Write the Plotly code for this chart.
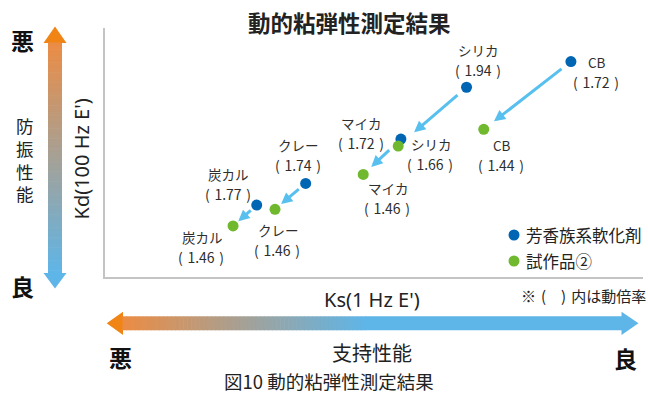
import plotly.graph_objects as go

# ---------------- data ----------------
categories = ["炭カル", "クレー", "マイカ", "シリカ", "CB"]
series_names = ["芳香族系軟化剤", "試作品②"]
aro_ks = [28.2, 37.3, 55.0, 67.2, 86.6]
aro_kd = [28.9, 37.6, 55.4, 76.2, 86.5]
aro_ratio = [1.77, 1.74, 1.72, 1.94, 1.72]
pro_ks = [23.8, 31.6, 48.0, 54.5, 70.4]
pro_kd = [20.5, 27.2, 41.2, 52.6, 59.3]
pro_ratio = [1.46, 1.46, 1.46, 1.66, 1.44]

# ---------------- styles ----------------
W, H = 648, 394
L, R, T, B = 105, 5, 28, 117
PW = W - L - R
PH = H - T - B
BLUE = "#0065B3"
GREEN = "#70B82E"
ARROW = "#58C0EF"
TXT = "#2E2E2E"
JP = "Noto Sans CJK JP"
LAT = "Noto Sans, Noto Sans CJK JP"
SP = "\u2004"

aro_off = [(-28, 21.5), (-7, 28), (-39, 6.5), (12, 27), (26, -10)]
pro_off = [(-31, -21.5), (3, -31), (25, -24), (33, -7.7), (18, -25.7)]
start_so = [6, 7, 14, 10, 10]
end_so = [7, 8, 11, 21, 13]


def px(x):
    return (x - L) / PW


def py(y):
    return (H - B - y) / PH


fig = go.Figure()
fig.add_trace(go.Scatter(x=aro_ks, y=aro_kd, mode="markers", name=series_names[0],
                         marker=dict(color=BLUE, size=11, line=dict(width=0)),
                         showlegend=False, cliponaxis=False))
fig.add_trace(go.Scatter(x=pro_ks, y=pro_kd, mode="markers", name=series_names[1],
                         marker=dict(color=GREEN, size=11, line=dict(width=0)),
                         showlegend=False, cliponaxis=False))

ann = []
shapes = []

# arrows blue -> green
for i in range(len(categories)):
    ann.append(dict(x=pro_ks[i], y=pro_kd[i], ax=aro_ks[i], ay=aro_kd[i],
                    xref="x", yref="y", axref="x", ayref="y", text="",
                    showarrow=True, arrowhead=2, arrowsize=0.75, arrowwidth=3,
                    arrowcolor=ARROW, standoff=end_so[i], startstandoff=start_so[i]))


# point labels
def add_label(x, y, name, ratio, off):
    dx, dy = off
    ann.append(dict(x=x, y=y, xref="x", yref="y", text=name, showarrow=False,
                    xshift=dx, yshift=dy + 10, font=dict(family=JP, size=13.5, color=TXT)))
    ann.append(dict(x=x, y=y, xref="x", yref="y", text="(" + SP + "%.2f" % ratio + SP + ")",
                    showarrow=False, xshift=dx - 1, yshift=dy - 10,
                    font=dict(family=JP, size=14, color=TXT)))


for i, c in enumerate(categories):
    add_label(aro_ks[i], aro_kd[i], c, aro_ratio[i], aro_off[i])
    add_label(pro_ks[i], pro_kd[i], c, pro_ratio[i], pro_off[i])


def txt(x, y, s, size, family=JP, bold=False, color="#222222", xanchor="center", angle=0):
    ann.append(dict(x=px(x), y=py(y), xref="paper", yref="paper",
                    text=("<b>%s</b>" % s) if bold else s,
                    showarrow=False, xanchor=xanchor, yanchor="middle", textangle=angle,
                    font=dict(family=family, size=size, color=color)))


# title & texts
txt(349, 22, "動的粘弾性測定結果", 22.5, bold=True)
txt(80.5, 159, "Kd(100 Hz E')", 20, family=LAT, angle=-90)
txt(372, 299, "Ks(1 Hz E')", 20, family=LAT)
txt(648, 295, "※\u2004(\u2002\u2002)\u2004内は動倍率", 15, xanchor="right")
txt(22, 40, "悪", 23, bold=True, color="#111111")
txt(22, 286, "良", 23, bold=True, color="#111111")
txt(25, 159, "<br>".join("防振性能"), 17.5)
txt(120, 357, "悪", 23, bold=True, color="#111111")
txt(625, 358, "良", 23, bold=True, color="#111111")
txt(371.5, 352, "支持性能", 20)
txt(328.5, 381, "図10 動的粘弾性測定結果", 18.5)

# manual legend
for k, (col, name) in enumerate(zip([BLUE, GREEN], series_names)):
    cy = 235 + 26 * k
    shapes.append(dict(type="circle", xref="paper", yref="paper", x0=px(508.5), x1=px(519.5),
                       y0=py(cy + 5.5), y1=py(cy - 5.5), fillcolor=col, line=dict(width=0)))
    txt(524, cy, name, 16.5, xanchor="left")

# gradient arrows
O_HEAD = (240, 132, 20)
O_START = (236, 140, 68)
B_END = (94, 181, 232)


def mix(a, b, t):
    return "rgb(%d,%d,%d)" % tuple(round(a[j] + (b[j] - a[j]) * t) for j in range(3))


def path(points):
    return "M " + " L ".join("%f,%f" % (px(a), py(b)) for a, b in points) + " Z"


# horizontal
hy0, hy1 = 316.3, 330.3
shapes.append(dict(type="path", xref="paper", yref="paper",
                   path=path([(106.7, 323.3), (123, 311.7), (123, 335)]),
                   fillcolor="rgb(%d,%d,%d)" % O_HEAD, line=dict(width=0)))
gx0, gx1, N = 122.5, 365, 60
for k in range(N):
    a = gx0 + (gx1 - gx0) * k / N
    b = gx0 + (gx1 - gx0) * (k + 1) / N + 0.6
    shapes.append(dict(type="rect", xref="paper", yref="paper", x0=px(a), x1=px(b),
                       y0=py(hy1), y1=py(hy0), fillcolor=mix(O_START, B_END, (k + 0.5) / N),
                       line=dict(width=0)))
shapes.append(dict(type="rect", xref="paper", yref="paper", x0=px(gx1), x1=px(622),
                   y0=py(hy1), y1=py(hy0), fillcolor=mix(O_START, B_END, 1), line=dict(width=0)))
shapes.append(dict(type="path", xref="paper", yref="paper",
                   path=path([(638.5, 323.3), (621.5, 311.7), (621.5, 335)]),
                   fillcolor=mix(O_START, B_END, 1), line=dict(width=0)))

# vertical
vx0, vx1 = 48, 62
shapes.append(dict(type="path", xref="paper", yref="paper",
                   path=path([(55, 26.5), (43.5, 43), (66.5, 43)]),
                   fillcolor="rgb(%d,%d,%d)" % O_HEAD, line=dict(width=0)))
gy0, gy1, M = 42.5, 273.5, 70
for k in range(M):
    a = gy0 + (gy1 - gy0) * k / M
    b = gy0 + (gy1 - gy0) * (k + 1) / M + 0.6
    shapes.append(dict(type="rect", xref="paper", yref="paper", x0=px(vx0), x1=px(vx1),
                       y0=py(b), y1=py(a), fillcolor=mix(O_START, B_END, (k + 0.5) / M),
                       line=dict(width=0)))
shapes.append(dict(type="path", xref="paper", yref="paper",
                   path=path([(55, 288.5), (43.5, 273), (66.5, 273)]),
                   fillcolor=mix(O_START, B_END, 1), line=dict(width=0)))

fig.update_layout(
    width=W, height=H,
    margin=dict(l=L, r=R, t=T, b=B),
    paper_bgcolor="white", plot_bgcolor="white",
    xaxis=dict(range=[0, 100], showgrid=False, zeroline=False, showticklabels=False, ticks="",
               showline=True, linecolor="#C4C4C4", linewidth=2),
    yaxis=dict(range=[0, 100], showgrid=False, zeroline=False, showticklabels=False, ticks="",
               showline=True, linecolor="#C4C4C4", linewidth=2),
    annotations=ann, shapes=shapes, showlegend=False,
)

fig.write_html("out.html")
